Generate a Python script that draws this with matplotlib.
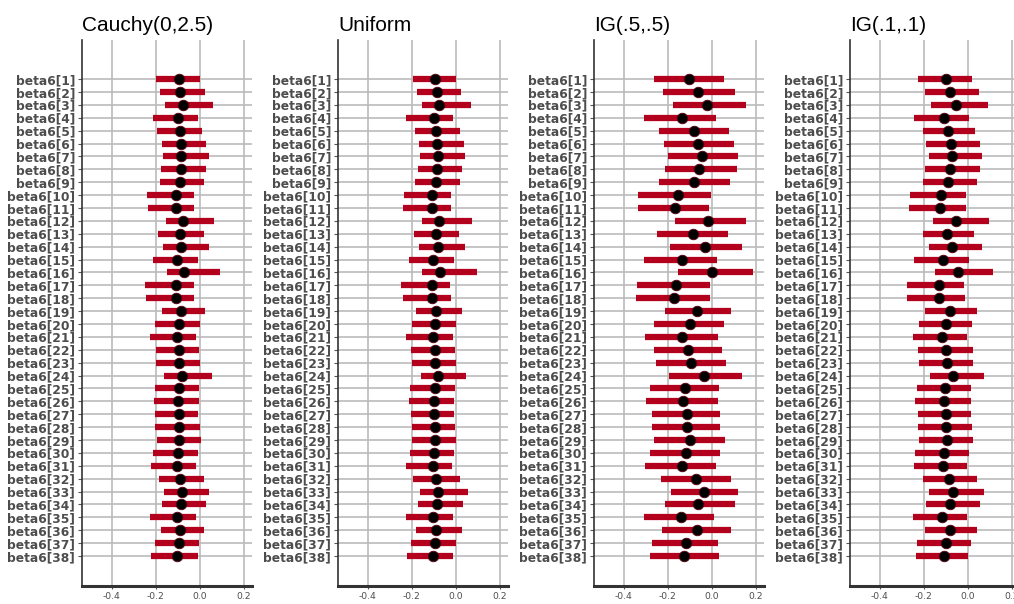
import numpy as np
import matplotlib
matplotlib.use("Agg")
import matplotlib.pyplot as plt

# posterior summaries of beta6 under four priors: median and interval bounds
params = ["beta6[%d]" % i for i in range(1, 39)]
priors = ["Cauchy(0,2.5)", "Uniform", "IG(.5,.5)", "IG(.1,.1)"]

cauchy_est = [-0.094, -0.088, -0.077, -0.100, -0.091, -0.086, -0.083, -0.086, -0.091, -0.106,
              -0.108, -0.074, -0.091, -0.083, -0.102, -0.070, -0.108, -0.108, -0.086, -0.095,
              -0.102, -0.095, -0.095, -0.082, -0.095, -0.097, -0.095, -0.095, -0.092, -0.097,
              -0.103, -0.091, -0.082, -0.086, -0.102, -0.088, -0.095, -0.102]
cauchy_lo = [-0.197, -0.182, -0.158, -0.214, -0.194, -0.173, -0.167, -0.177, -0.182, -0.239,
             -0.233, -0.152, -0.188, -0.168, -0.214, -0.147, -0.250, -0.244, -0.173, -0.205,
             -0.224, -0.198, -0.198, -0.162, -0.205, -0.209, -0.205, -0.205, -0.194, -0.214,
             -0.220, -0.183, -0.162, -0.173, -0.224, -0.177, -0.205, -0.220]
cauchy_hi = [0.002, 0.023, 0.059, -0.008, 0.012, 0.027, 0.044, 0.029, 0.018, -0.024,
             -0.024, 0.064, 0.018, 0.044, -0.008, 0.091, -0.024, -0.024, 0.023, 0.002,
             -0.018, -0.002, 0.002, 0.055, -0.002, -0.002, -0.008, 0.002, 0.008, -0.008,
             -0.018, 0.018, 0.044, 0.029, -0.018, 0.018, -0.002, -0.008]

unif_est = [-0.092, -0.086, -0.074, -0.097, -0.089, -0.083, -0.080, -0.085, -0.089, -0.108,
            -0.108, -0.074, -0.091, -0.082, -0.103, -0.070, -0.108, -0.108, -0.088, -0.092,
            -0.103, -0.095, -0.092, -0.079, -0.095, -0.098, -0.097, -0.095, -0.092, -0.098,
            -0.103, -0.089, -0.079, -0.083, -0.103, -0.088, -0.095, -0.102]
unif_lo = [-0.194, -0.177, -0.153, -0.224, -0.183, -0.168, -0.162, -0.173, -0.183, -0.235,
           -0.239, -0.153, -0.188, -0.167, -0.214, -0.153, -0.250, -0.239, -0.179, -0.198,
           -0.224, -0.205, -0.198, -0.158, -0.208, -0.214, -0.205, -0.198, -0.198, -0.209,
           -0.224, -0.194, -0.164, -0.173, -0.224, -0.179, -0.205, -0.220]
unif_hi = [0.003, 0.024, 0.070, -0.012, 0.018, 0.039, 0.044, 0.029, 0.018, -0.023,
           -0.023, 0.074, 0.014, 0.044, -0.008, 0.095, -0.027, -0.023, 0.029, 0.003,
           -0.012, -0.002, 0.003, 0.048, -0.002, -0.008, -0.008, -0.002, 0.003, -0.008,
           -0.017, 0.018, 0.055, 0.033, -0.012, 0.029, 0.003, -0.012]

ig5_est = [-0.105, -0.064, -0.020, -0.135, -0.081, -0.062, -0.046, -0.058, -0.079, -0.152,
           -0.166, -0.015, -0.087, -0.030, -0.135, 0.003, -0.163, -0.169, -0.068, -0.100,
           -0.134, -0.107, -0.096, -0.037, -0.123, -0.131, -0.111, -0.114, -0.099, -0.117,
           -0.135, -0.073, -0.033, -0.061, -0.139, -0.067, -0.116, -0.125]
ig5_lo = [-0.262, -0.221, -0.174, -0.309, -0.240, -0.216, -0.199, -0.210, -0.240, -0.335,
          -0.335, -0.167, -0.247, -0.189, -0.309, -0.152, -0.339, -0.346, -0.210, -0.262,
          -0.304, -0.262, -0.251, -0.195, -0.282, -0.298, -0.271, -0.271, -0.262, -0.282,
          -0.304, -0.230, -0.183, -0.210, -0.309, -0.225, -0.271, -0.282]
ig5_hi = [0.055, 0.107, 0.158, 0.020, 0.081, 0.100, 0.122, 0.116, 0.085, -0.002,
          -0.012, 0.158, 0.075, 0.137, 0.023, 0.189, -0.009, -0.009, 0.090, 0.055,
          0.027, 0.049, 0.064, 0.137, 0.033, 0.027, 0.038, 0.038, 0.059, 0.038,
          0.018, 0.090, 0.122, 0.107, 0.012, 0.090, 0.027, 0.033]

ig1_est = [-0.098, -0.080, -0.055, -0.109, -0.089, -0.077, -0.071, -0.080, -0.088, -0.123,
           -0.124, -0.053, -0.092, -0.073, -0.114, -0.042, -0.129, -0.129, -0.080, -0.097,
           -0.117, -0.097, -0.094, -0.065, -0.102, -0.109, -0.100, -0.098, -0.092, -0.108,
           -0.114, -0.086, -0.067, -0.079, -0.117, -0.082, -0.100, -0.109]
ig1_lo = [-0.224, -0.194, -0.168, -0.245, -0.205, -0.188, -0.177, -0.194, -0.205, -0.261,
          -0.265, -0.158, -0.205, -0.177, -0.245, -0.147, -0.276, -0.276, -0.194, -0.220,
          -0.250, -0.224, -0.220, -0.173, -0.230, -0.239, -0.224, -0.224, -0.220, -0.239,
          -0.245, -0.203, -0.177, -0.188, -0.250, -0.194, -0.229, -0.235]
ig1_hi = [0.018, 0.050, 0.091, 0.008, 0.033, 0.055, 0.065, 0.055, 0.044, -0.008,
          -0.008, 0.095, 0.029, 0.065, 0.008, 0.117, -0.018, -0.012, 0.044, 0.018,
          -0.002, 0.023, 0.023, 0.074, 0.014, 0.014, 0.014, 0.018, 0.023, 0.008,
          -0.002, 0.044, 0.074, 0.055, -0.002, 0.044, 0.014, 0.003]

summaries = [
    (cauchy_est, cauchy_lo, cauchy_hi),
    (unif_est, unif_lo, unif_hi),
    (ig5_est, ig5_lo, ig5_hi),
    (ig1_est, ig1_lo, ig1_hi),
]

plt.rcParams["axes.unicode_minus"] = False

W, H = 1014, 604
fig = plt.figure(figsize=(W / 100, H / 100), dpi=100)

bar_col = "#B2001D"
grid_col = "#BBBBBB"
txt_col = "#4D4D4D"
lefts = [82, 338, 594, 850]
panel_w = 170
top, bottom = 40, 586

ypos = np.arange(1, len(params) + 1)

for k, (name, (est, lo, hi)) in enumerate(zip(priors, summaries)):
    ax = fig.add_axes([lefts[k] / W, (H - bottom) / H, panel_w / W, (bottom - top) / H])
    ax.set_xlim(-0.535, 0.238)
    ax.set_ylim(40.33, -2.03)

    ax.hlines(ypos, -0.535, 0.238, color=grid_col, lw=1.2, zorder=0)
    for xv in [-0.4, -0.2, 0.0, 0.2]:
        ax.axvline(xv, color=grid_col, lw=1.2, zorder=0)

    ax.hlines(ypos, lo, hi, color=bar_col, lw=4.5, zorder=2)
    ax.plot(est, ypos, "o", ms=7.6, mfc="black", mec="#5a0010", mew=0.6, zorder=3)

    ax.set_xticks([-0.4, -0.2, 0.0, 0.2])
    ax.set_xticklabels(["-0.4", "-0.2", "0.0", "0.2"])
    ax.set_yticks(ypos)
    ax.set_yticklabels(params)
    ax.tick_params(axis="y", length=3, width=0.8, color="#555555", pad=2,
                   labelsize=8.8, labelcolor=txt_col)
    ax.tick_params(axis="x", length=2, width=0.8, color="#555555", pad=2,
                   labelsize=6.6, labelcolor=txt_col)
    for lab in ax.get_yticklabels():
        lab.set_fontweight("bold")

    for s in ["top", "right"]:
        ax.spines[s].set_visible(False)
    ax.spines["left"].set_color("#333333")
    ax.spines["left"].set_linewidth(1.2)
    ax.spines["bottom"].set_color("#333333")
    ax.spines["bottom"].set_linewidth(2.2)

    ax.set_title(name, loc="left", fontsize=15, family="Liberation Sans",
                 color="black", pad=6.8)

fig.savefig("out.png", dpi=100)
